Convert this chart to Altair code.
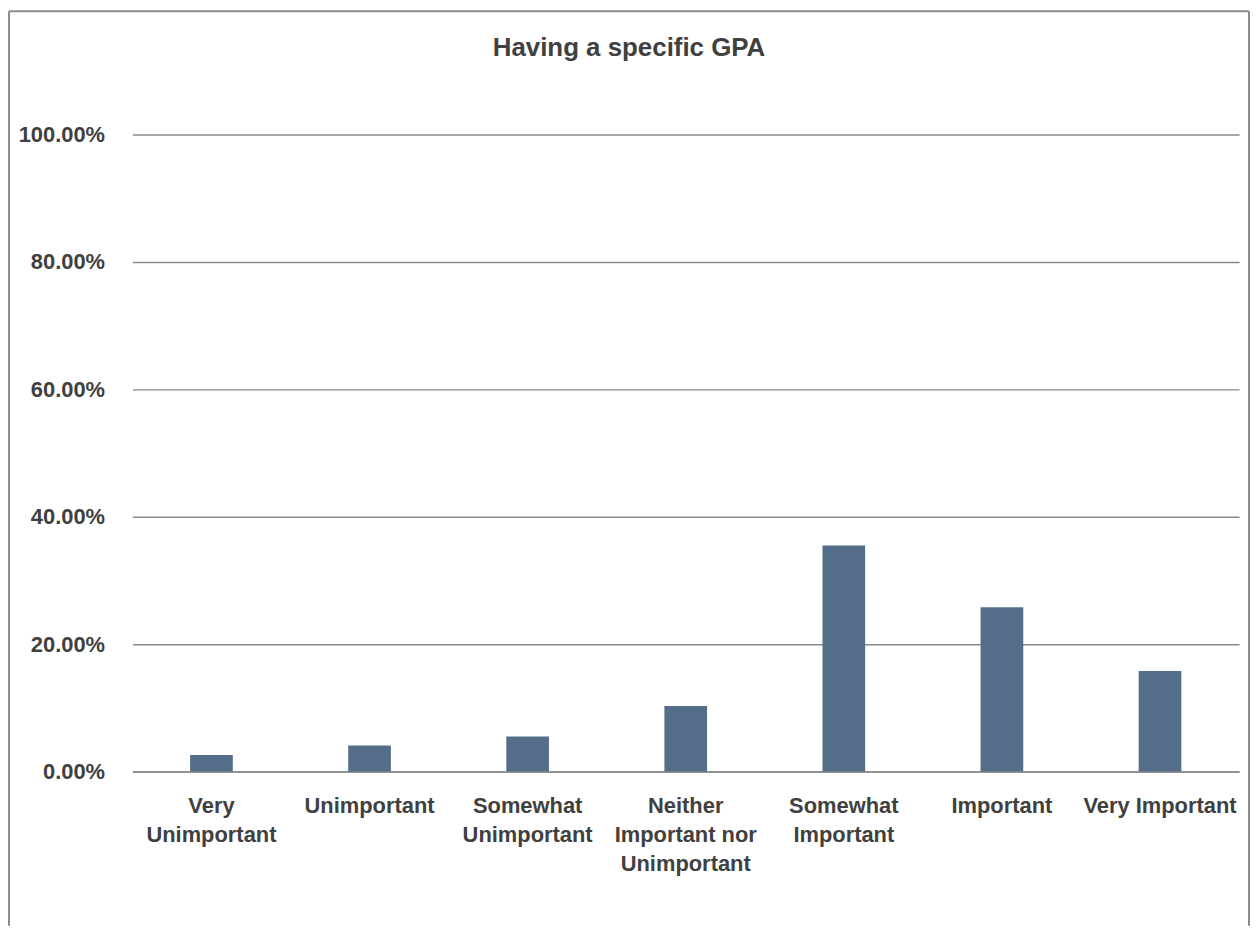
import json
import altair as alt
import pandas as pd

# ---- data ----
categories = [
    "Very Unimportant",
    "Unimportant",
    "Somewhat Unimportant",
    "Neither Important nor Unimportant",
    "Somewhat Important",
    "Important",
    "Very Important",
]
shares = [0.026, 0.041, 0.055, 0.103, 0.355, 0.258, 0.158]
label_lines = [
    ["Very", "Unimportant"],
    ["Unimportant"],
    ["Somewhat", "Unimportant"],
    ["Neither", "Important nor", "Unimportant"],
    ["Somewhat", "Important"],
    ["Important"],
    ["Very Important"],
]
y_ticks = [0.0, 0.2, 0.4, 0.6, 0.8, 1.0]
title_text = "Having a specific GPA"

df = pd.DataFrame({"category": categories, "share": shares})

label_expr = ""
for c, lines in zip(categories, label_lines):
    label_expr += f"datum.value == {json.dumps(c)} ? {json.dumps(lines)} : "
label_expr += "datum.value"

FONT = "Liberation Sans Narrow, Arial Narrow, Liberation Sans, Arial, sans-serif"
TEXT = "#404040"
GRID = "#8a8a8a"
W, H = 1112, 640
PAD = {"left": 125, "top": 125, "right": 11, "bottom": 155}

bars = alt.Chart(df).mark_bar(color="#546e8a").encode(
    x=alt.X(
        "category:N",
        sort=categories,
        scale=alt.Scale(paddingInner=0.73, paddingOuter=0.365),
        axis=alt.Axis(
            title=None,
            labelAngle=0,
            labelExpr=label_expr,
            labelFont=FONT,
            labelFontSize=22,
            labelFontWeight="bold",
            labelColor=TEXT,
            labelLineHeight=29,
            labelPadding=24,
            labelBaseline="top",
            labelLimit=0,
            ticks=False,
            domainColor=GRID,
            domainWidth=1.5,
            grid=False,
        ),
    ),
    y=alt.Y(
        "share:Q",
        scale=alt.Scale(domain=[0, 1], nice=False),
        axis=alt.Axis(
            title=None,
            values=y_ticks,
            format=".2%",
            labelFont=FONT,
            labelFontSize=22,
            labelFontWeight="bold",
            labelColor=TEXT,
            labelPadding=28,
            ticks=False,
            domain=False,
            grid=True,
            gridColor=GRID,
            gridWidth=1.5,
        ),
    ),
)

title_data = alt.Data(values=[{"t": title_text}])
title_mark = alt.Chart(title_data).mark_text(
    font=FONT,
    fontSize=26,
    fontWeight="bold",
    color=TEXT,
    align="center",
    baseline="alphabetic",
).encode(text="t:N", x=alt.value(W / 2 - 57), y=alt.value(-79))

frame_data = alt.Data(values=[{"k": 1}])
border_color = "#8c8c8c"
left_edge = alt.Chart(frame_data).mark_rule(color=border_color, strokeWidth=2).encode(
    x=alt.value(-124), y=alt.value(-124), y2=alt.value(H + PAD["bottom"])
)
top_edge = alt.Chart(frame_data).mark_rule(color=border_color, strokeWidth=2).encode(
    x=alt.value(-124), x2=alt.value(W + 10), y=alt.value(-124)
)
right_edge = alt.Chart(frame_data).mark_rule(color=border_color, strokeWidth=2).encode(
    x=alt.value(W + 10), y=alt.value(-124), y2=alt.value(H + PAD["bottom"])
)

chart = (
    alt.layer(bars, title_mark, left_edge, top_edge, right_edge)
    .properties(
        width=W,
        height=H,
        autosize=alt.AutoSizeParams(type="none"),
        padding=PAD,
        background="white",
    )
    .configure_view(stroke=None)
)

chart.save("out.html", embed_options={"renderer": "svg", "actions": False})
